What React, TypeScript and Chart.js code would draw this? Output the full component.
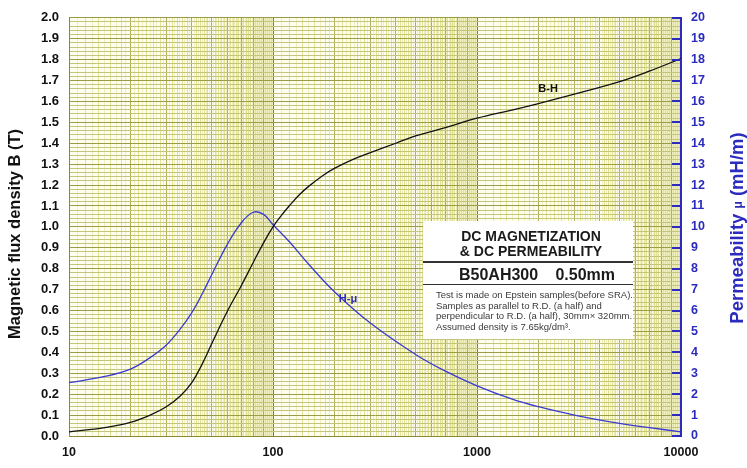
import React, { useEffect, useRef } from 'react';
import { Chart, registerables } from 'chart.js';

Chart.register(...registerables);

// ---- data ----
const H_BH = [10, 15, 20, 25, 30, 35, 40, 45, 50, 60, 70, 80, 90, 100, 110, 120, 135, 150, 175, 200, 250, 300, 400, 500, 700, 1000, 1500, 2000, 3000, 5000, 7000, 10000];
const B_VALUES = [0.02, 0.04, 0.065, 0.1, 0.14, 0.19, 0.255, 0.345, 0.44, 0.6, 0.72, 0.83, 0.925, 1.0, 1.055, 1.1, 1.155, 1.195, 1.245, 1.28, 1.325, 1.355, 1.4, 1.435, 1.475, 1.52, 1.56, 1.59, 1.635, 1.695, 1.745, 1.805];

const H_MU = [10, 15, 20, 25, 30, 35, 40, 45, 50, 60, 70, 80, 90, 100, 120, 150, 200, 300, 500, 700, 1000, 1500, 2000, 3000, 5000, 7000, 10000];
const MU_VALUES = [2.55, 2.85, 3.2, 3.75, 4.35, 5.1, 5.9, 6.8, 7.7, 9.2, 10.2, 10.7, 10.6, 10.1, 9.3, 8.2, 6.9, 5.4, 3.9, 3.1, 2.4, 1.75, 1.4, 1.0, 0.6, 0.4, 0.2];

const X_TICK_LABELS = [10, 100, 1000, 10000];
const B_MIN = 0, B_MAX = 2.0, B_MAJOR = 0.1, B_MINOR = 0.02;
const MU_MIN = 0, MU_MAX = 20, MU_STEP = 1;

const LEFT_TITLE = 'Magnetic flux density B (T)';
const RIGHT_TITLE = ['Permeability ', 'μ', ' (mH/m)'];
const BOX_TITLE = ['DC MAGNETIZATION', '& DC PERMEABILITY'];
const BOX_GRADE = 'B50AH300';
const BOX_THICK = '0.50mm';
const BOX_NOTES = [
  'Test is made on Epstein samples(before SRA).',
  'Samples as parallel to R.D. (a half) and',
  'perpendicular to R.D. (a half), 30mm× 320mm.',
  'Assumed density is 7.65kg/dm³.',
];
const LABEL_BH = { text: 'B-H', h: 2230, v: 1.66 };
const LABEL_MU = { text: 'H-μ', h: 233, v: 6.56 };

// grid tick values (log paper: each decade subdivided in equal steps)
const X_GRID: number[] = [];
for (const d of [10, 100, 1000]) for (let i = 0; i < 90; i++) X_GRID.push(d + (d / 10) * i);
X_GRID.push(10000);
const Y_GRID: number[] = [];
for (let i = 0; i <= Math.round((B_MAX - B_MIN) / B_MINOR); i++) Y_GRID.push(Math.round((B_MIN + i * B_MINOR) * 1000) / 1000);

const FONT = "'Liberation Sans', Arial, Helvetica, sans-serif";
const BLUE = '#2b2bbd';
const LINE_BLUE = '#3b3bd0';

const mant = (v: number) => v / Math.pow(10, Math.floor(Math.log10(v) + 1e-9));
const isDecade = (v: number) => Math.abs(mant(v) - 1) < 1e-9;
const isTens = (v: number) => Math.abs(mant(v) - Math.round(mant(v))) < 1e-9;
const isEvenSub = (v: number) => {
  const m = mant(v) * 10;
  return Math.round(m) % 2 === 0;
};
const isBMajor = (v: number) => Math.abs(v / B_MAJOR - Math.round(v / B_MAJOR)) < 1e-6;

const decor = {
  id: 'decor',
  beforeDraw(chart: any) {
    const { ctx, chartArea: a } = chart;
    ctx.save();
    ctx.fillStyle = '#fdfdf0';
    ctx.fillRect(a.left, a.top, a.right - a.left, a.bottom - a.top);
    ctx.restore();
  },
  afterDatasetsDraw(chart: any) {
    const { ctx, scales } = chart;
    const x = scales.x, y = scales.y, yr = scales.y1;
    ctx.save();
    // curve labels
    ctx.font = `bold 11px ${FONT}`;
    ctx.textAlign = 'center';
    ctx.textBaseline = 'middle';
    ctx.fillStyle = '#111';
    ctx.fillText(LABEL_BH.text, x.getPixelForValue(LABEL_BH.h), y.getPixelForValue(LABEL_BH.v));
    ctx.fillStyle = BLUE;
    ctx.fillText(LABEL_MU.text, x.getPixelForValue(LABEL_MU.h), yr.getPixelForValue(LABEL_MU.v));

    // info box
    const bx = 423, by = 221, bw = 210, bh = 118;
    ctx.fillStyle = '#ffffff';
    ctx.fillRect(bx, by, bw, bh);
    ctx.fillStyle = '#1a1a1a';
    ctx.textBaseline = 'alphabetic';
    ctx.textAlign = 'center';
    ctx.font = `bold 14px ${FONT}`;
    ctx.fillText(BOX_TITLE[0], bx + bw / 2 + 3, 241);
    ctx.fillText(BOX_TITLE[1], bx + bw / 2 + 3, 256);
    ctx.strokeStyle = '#333';
    ctx.lineWidth = 2;
    ctx.beginPath();
    ctx.moveTo(bx, 262);
    ctx.lineTo(bx + bw, 262);
    ctx.stroke();
    ctx.font = `bold 16px ${FONT}`;
    ctx.textAlign = 'left';
    ctx.fillText(BOX_GRADE, 459, 280);
    ctx.textAlign = 'right';
    ctx.fillText(BOX_THICK, 615, 280);
    ctx.lineWidth = 1;
    ctx.beginPath();
    ctx.moveTo(bx, 284.5);
    ctx.lineTo(bx + bw, 284.5);
    ctx.stroke();
    ctx.font = `9.5px ${FONT}`;
    ctx.fillStyle = '#3a3a3a';
    ctx.textAlign = 'left';
    const ys = [298, 308.5, 319, 329.5];
    BOX_NOTES.forEach((t, i) => ctx.fillText(t, 436, ys[i]));
    ctx.restore();
  },
  afterDraw(chart: any) {
    const { ctx, chartArea: a, scales } = chart;
    const yr = scales.y1;
    ctx.save();
    // inward ticks on right axis
    ctx.strokeStyle = BLUE;
    ctx.lineWidth = 2;
    for (let v = MU_MIN; v <= MU_MAX; v += MU_STEP) {
      const py = Math.round(yr.getPixelForValue(v));
      ctx.beginPath();
      ctx.moveTo(a.right - 9, py);
      ctx.lineTo(a.right, py);
      ctx.stroke();
    }
    // left title
    ctx.translate(15, 234);
    ctx.rotate(-Math.PI / 2);
    ctx.font = `bold 16.5px ${FONT}`;
    ctx.fillStyle = '#111';
    ctx.textAlign = 'center';
    ctx.textBaseline = 'middle';
    ctx.fillText(LEFT_TITLE, 0, 0);
    ctx.restore();
    // right title (mu smaller)
    ctx.save();
    ctx.translate(738, 228);
    ctx.rotate(-Math.PI / 2);
    ctx.fillStyle = BLUE;
    ctx.textBaseline = 'middle';
    const fBig = `bold 18.5px ${FONT}`, fSmall = `bold 12px ${FONT}`;
    ctx.font = fBig;
    const w0 = ctx.measureText(RIGHT_TITLE[0]).width;
    const w2 = ctx.measureText(RIGHT_TITLE[2]).width;
    ctx.font = fSmall;
    const w1 = ctx.measureText(RIGHT_TITLE[1]).width;
    let px = -(w0 + w1 + w2) / 2;
    ctx.textAlign = 'left';
    ctx.font = fBig;
    ctx.fillText(RIGHT_TITLE[0], px, 0);
    px += w0;
    ctx.font = fSmall;
    ctx.fillText(RIGHT_TITLE[1], px, 1);
    px += w1;
    ctx.font = fBig;
    ctx.fillText(RIGHT_TITLE[2], px, 0);
    ctx.restore();
  },
};

export default function App() {
  const ref = useRef<HTMLCanvasElement | null>(null);
  useEffect(() => {
    document.body.style.margin = '0';
    const canvas = ref.current;
    if (!canvas) return;
    const chart = new Chart(canvas, {
      type: 'line',
      data: {
        datasets: [
          {
            label: 'B-H',
            data: H_BH.map((h, i) => ({ x: h, y: B_VALUES[i] })),
            yAxisID: 'y',
            borderColor: '#111111',
            borderWidth: 1.3,
            pointRadius: 0,
            tension: 0.4,
            fill: false,
          },
          {
            label: 'H-μ',
            data: H_MU.map((h, i) => ({ x: h, y: MU_VALUES[i] })),
            yAxisID: 'y1',
            borderColor: LINE_BLUE,
            borderWidth: 1.3,
            pointRadius: 0,
            tension: 0.4,
            fill: false,
          },
        ],
      },
      options: {
        responsive: false,
        animation: false,
        events: [],
        layout: { padding: 0 },
        plugins: { legend: { display: false }, tooltip: { enabled: false }, title: { display: false } },
        scales: {
          x: {
            type: 'logarithmic',
            min: 10,
            max: 10000,
            afterBuildTicks: (s: any) => {
              s.ticks = X_GRID.map((v) => ({ value: v }));
            },
            afterFit: (s: any) => {
              s.height = 32;
            },
            ticks: {
              autoSkip: false,
              maxRotation: 0,
              minRotation: 0,
              padding: 9,
              color: '#111',
              font: { family: FONT, size: 12.5, weight: 'bold' },
              callback: (v: any) => (X_TICK_LABELS.includes(Number(v)) ? String(v) : ''),
            },
            grid: {
              drawTicks: false,
              lineWidth: 1,
              color: (c: any) => {
                const v = c.tick ? c.tick.value : 0;
                if (isDecade(v)) return '#7e7e2c';
                if (isTens(v)) return '#adad5a';
                if (isEvenSub(v)) return '#e2e296';
                return '#efefc0';
              },
            },
            border: { color: '#8a8a36', width: 1 },
          },
          y: {
            type: 'linear',
            position: 'left',
            min: B_MIN,
            max: B_MAX,
            afterBuildTicks: (s: any) => {
              s.ticks = Y_GRID.map((v) => ({ value: v }));
            },
            afterFit: (s: any) => {
              s.width = 69;
            },
            ticks: {
              autoSkip: false,
              padding: 10,
              color: '#111',
              font: { family: FONT, size: 13, weight: 'bold' },
              callback: (v: any) => (isBMajor(Number(v)) ? Number(v).toFixed(1) : ''),
            },
            grid: {
              drawTicks: false,
              lineWidth: 1,
              color: (c: any) => {
                const v = c.tick ? c.tick.value : 0;
                return isBMajor(v) ? '#9c9c46' : '#c4c47a';
              },
            },
            border: { color: '#8a8a36', width: 1 },
          },
          y1: {
            type: 'linear',
            position: 'right',
            min: MU_MIN,
            max: MU_MAX,
            afterFit: (s: any) => {
              s.width = 66;
            },
            ticks: {
              stepSize: MU_STEP,
              autoSkip: false,
              padding: 10,
              color: BLUE,
              font: { family: FONT, size: 12.5, weight: 'bold' },
            },
            grid: { drawOnChartArea: false, drawTicks: false },
            border: { color: BLUE, width: 2 },
          },
        },
      },
      plugins: [decor],
    } as any);
    return () => chart.destroy();
  }, []);
  return (
    <div style={{ width: 747, height: 468, background: '#ffffff' }}>
      <canvas ref={ref} width={747} height={468} style={{ display: 'block' }} />
    </div>
  );
}
